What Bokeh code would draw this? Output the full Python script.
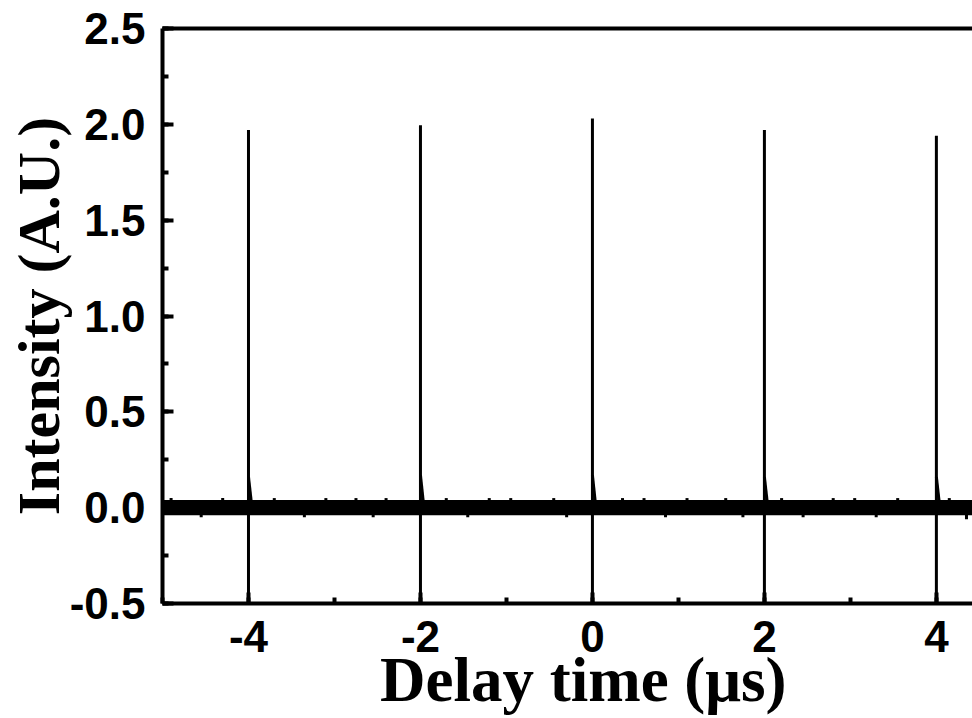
from bokeh.plotting import figure
from bokeh.models import LinearAxis, SingleIntervalTicker, Range1d, CustomJSTickFormatter
from bokeh.embed import file_html
from bokeh.resources import INLINE

# ---- data ----
pulse_times = [-4.0, -2.0, 0.0, 2.0, 4.0]          # µs
pulse_peaks = [1.97, 1.995, 2.03, 1.97, 1.94]        # A.U.
pulse_dips = [-0.5, -0.5, -0.5, -0.5, -0.5]          # A.U.
pulse_shoulders = [0.16, 0.17, 0.17, 0.16, 0.16]     # A.U.
noise_half = 0.04                                     # baseline noise half-width
blip_x = [-4.9, -4.55, -4.3, -3.7, -3.35, -3.1, -2.75, -2.55, -2.4, -1.7, -1.45,
          -1.2, -0.95, -0.45, -0.3, 0.35, 0.6, 0.85, 1.1, 1.55, 1.75, 2.2, 2.45,
          2.8, 3.05, 3.3, 3.55, 4.15, 4.35]
blip_y = [0.05, -0.05, 0.05, 0.05, -0.05, 0.05, 0.05, -0.05, 0.05, 0.05, -0.05,
          0.05, 0.05, 0.05, -0.05, 0.05, 0.05, -0.05, 0.05, 0.05, -0.05, 0.05, -0.05,
          0.05, 0.05, -0.05, 0.05, 0.05, -0.06]
x_title = "\u2002Delay time (\u03bcs)"
y_title = "Intensity (A.U.)"

x_start, x_end = -5.0, 4.42
y_start, y_end = -0.5, 2.5

p = figure(width=972, height=718, output_backend="svg", toolbar_location=None,
           x_range=Range1d(x_start, x_end), y_range=Range1d(y_start, y_end),
           min_border_left=162, min_border_top=28, min_border_bottom=115,
           min_border_right=0, x_axis_location=None, y_axis_location=None)
p.outline_line_color = None
p.grid.visible = False
p.background_fill_color = "white"
p.border_fill_color = "white"

# baseline noise band
p.quad(left=[x_start], right=[x_end], bottom=[-noise_half], top=[noise_half],
       fill_color="black", line_color=None)
p.segment(x0=blip_x, y0=[0] * len(blip_x), x1=blip_x, y1=blip_y,
          line_color="black", line_width=3)

# pulses
p.segment(x0=pulse_times, y0=pulse_dips, x1=pulse_times, y1=pulse_peaks,
          line_color="black", line_width=3)
p.segment(x0=pulse_times, y0=pulse_shoulders,
          x1=[t + 0.04 for t in pulse_times], y1=[0.0] * len(pulse_times),
          line_color="black", line_width=3)

font_ticks = "Liberation Sans"
font_title = "Liberation Serif"

xaxis = LinearAxis(ticker=SingleIntervalTicker(interval=2, num_minor_ticks=2))
yaxis = LinearAxis(ticker=SingleIntervalTicker(interval=0.5, num_minor_ticks=2))
xaxis.axis_label = x_title
yaxis.axis_label = y_title
for ax in (xaxis, yaxis):
    ax.axis_line_width = 4
    ax.axis_line_color = "black"
    ax.major_tick_in = 11
    ax.major_tick_out = 0
    ax.minor_tick_in = 6
    ax.minor_tick_out = 0
    ax.major_tick_line_width = 4
    ax.minor_tick_line_width = 4
    ax.major_label_text_font = font_ticks
    ax.major_label_text_font_style = "bold"
    ax.major_label_text_font_size = "44px"
    ax.major_label_text_color = "black"
    ax.axis_label_text_font = font_title
    ax.axis_label_text_font_style = "bold"
    ax.axis_label_text_color = "black"
xaxis.axis_label_text_font_size = "63px"
yaxis.axis_label_text_font_size = "60px"
xaxis.major_label_standoff = 17
xaxis.axis_label_standoff = -10
yaxis.major_label_standoff = 17
yaxis.axis_label_standoff = -5
xaxis.formatter = CustomJSTickFormatter(code="return tick.toFixed(0);")
yaxis.formatter = CustomJSTickFormatter(code="return tick.toFixed(1);")
p.add_layout(xaxis, "below")
p.add_layout(yaxis, "left")

top = LinearAxis(ticker=SingleIntervalTicker(interval=2, num_minor_ticks=2))
top.axis_line_width = 4
top.major_tick_in = 0
top.major_tick_out = 0
top.minor_tick_in = 0
top.minor_tick_out = 0
top.major_label_text_font_size = "0px"
top.major_label_text_color = None
p.add_layout(top, "above")

open("out.html", "w").write(file_html(p, INLINE))
